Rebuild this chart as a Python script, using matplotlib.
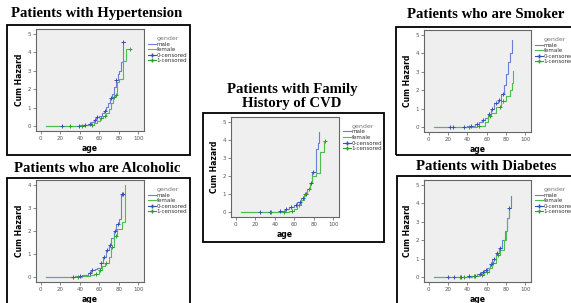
import matplotlib
matplotlib.use("Agg")
import matplotlib.pyplot as plt
import numpy as np
from matplotlib.patches import Rectangle
from matplotlib.lines import Line2D

W, H = 571, 303

# cumulative hazard step data (age, cum hazard)
hyp_m_age = [5, 40, 44, 48, 52, 55, 57, 60, 63, 65, 67, 69, 71, 73, 75, 77, 79, 80, 82, 84, 86]
hyp_m_haz = [0, 0.05, 0.1, 0.15, 0.25, 0.35, 0.5, 0.55, 0.7, 0.85, 1.05, 1.25, 1.55, 1.75, 2.1, 2.5, 2.8, 3.0, 3.45, 4.55, 4.55]
hyp_f_age = [5, 45, 50, 55, 58, 61, 64, 67, 70, 72, 74, 76, 78, 80, 84, 87, 88, 93]
hyp_f_haz = [0, 0.05, 0.1, 0.2, 0.3, 0.45, 0.55, 0.7, 0.95, 1.25, 1.6, 1.7, 2.4, 2.55, 3.5, 4.15, 4.15, 4.15]
hyp_m_cens = [22, 39, 45, 50, 56, 58, 66, 72, 77, 84]
hyp_f_cens = [30, 42, 53, 62, 66, 75, 77, 92]

alc_m_age = [5, 30, 35, 42, 48, 52, 56, 58, 62, 64, 67, 70, 72, 75, 77, 80, 82, 85]
alc_m_haz = [0, 0.03, 0.05, 0.1, 0.2, 0.3, 0.35, 0.4, 0.6, 0.9, 1.2, 1.4, 1.7, 2.0, 2.3, 2.5, 3.6, 3.6]
alc_f_age = [5, 35, 42, 50, 55, 60, 63, 66, 70, 72, 75, 78, 83, 86]
alc_f_haz = [0, 0.03, 0.05, 0.1, 0.15, 0.3, 0.5, 0.6, 0.9, 1.3, 1.8, 2.1, 2.4, 4.0]
alc_m_cens = [33, 40, 51, 53, 62, 65, 68, 71, 76, 79, 83, 84]
alc_f_cens = [38, 57, 61, 67, 73, 77]

fam_m_age = [5, 35, 40, 45, 50, 55, 60, 63, 67, 70, 73, 76, 78, 82, 84, 85]
fam_m_haz = [0, 0.03, 0.05, 0.1, 0.2, 0.3, 0.4, 0.55, 0.8, 1.0, 1.3, 1.6, 2.2, 3.5, 3.8, 4.4]
fam_f_age = [5, 40, 48, 55, 60, 63, 67, 70, 73, 76, 78, 82, 86, 91, 92]
fam_f_haz = [0, 0.03, 0.05, 0.1, 0.2, 0.4, 0.7, 1.0, 1.3, 1.6, 2.0, 2.15, 3.3, 3.95, 3.95]
fam_m_cens = [25, 35, 45, 52, 57, 62, 66, 69, 72, 77, 79]
fam_f_cens = [36, 49, 58, 65, 71, 75, 92]

smk_m_age = [5, 35, 40, 45, 48, 52, 55, 58, 61, 65, 68, 72, 75, 78, 80, 82, 84, 86]
smk_m_haz = [0, 0.03, 0.05, 0.1, 0.2, 0.3, 0.4, 0.5, 0.7, 1.0, 1.3, 1.5, 1.8, 2.3, 2.9, 3.5, 4.0, 4.7]
smk_f_age = [5, 40, 50, 55, 58, 61, 65, 70, 75, 80, 84, 86, 87]
smk_f_haz = [0, 0.03, 0.05, 0.1, 0.3, 0.6, 0.8, 1.1, 1.4, 1.7, 2.0, 2.4, 3.05]
smk_m_cens = [22, 25, 36, 44, 50, 56, 62, 66, 70, 73, 77]
smk_f_cens = [42, 52, 63, 74, 77]

dia_m_age = [5, 30, 40, 45, 50, 54, 57, 60, 63, 66, 70, 73, 76, 79, 81, 83, 85]
dia_m_haz = [0, 0.03, 0.05, 0.1, 0.2, 0.3, 0.4, 0.5, 0.7, 1.0, 1.3, 1.6, 2.0, 2.5, 3.2, 3.75, 4.4]
dia_f_age = [5, 38, 45, 52, 57, 62, 66, 70, 74, 78, 80, 81, 83]
dia_f_haz = [0, 0.03, 0.05, 0.15, 0.3, 0.5, 0.8, 1.2, 1.5, 2.0, 2.5, 3.2, 3.7]
dia_m_cens = [20, 26, 33, 42, 48, 53, 56, 59, 64, 68, 71, 74, 83]
dia_f_cens = [32, 36, 47, 55, 60, 67, 72]

male_col = '#6b7fd6'
male_dark = '#3a50b8'
fem_col = '#4cc04c'
fem_dark = '#2ea02e'


def px_axes(fig, x0, y0, w, h):
    return fig.add_axes([x0 / W, 1 - (y0 + h) / H, w / W, h / H])


def step_val(ages, haz, a):
    i = np.searchsorted(ages, a, side='right') - 1
    return haz[max(i, 0)]


def draw_panel(fig, title, title_xy, box, plot, m_age, m_haz, f_age, f_haz, m_cens, f_cens, ymax):
    bx, by, bw, bh = box
    fig.patches.append(Rectangle((bx / W, 1 - (by + bh) / H), bw / W, bh / H,
                                 transform=fig.transFigure, fill=False,
                                 edgecolor='black', linewidth=1.3))
    for i, line in enumerate(title.split('\n')):
        fig.text(title_xy[0] / W, 1 - (title_xy[1] + i * 13) / H, line,
                 ha='center', va='center', fontsize=10.6, fontweight='bold',
                 family='Liberation Serif')
    px, py, pw, ph = plot
    ax = px_axes(fig, px, py, pw, ph)
    ax.set_facecolor('#efefef')
    ax.step(m_age, m_haz, where='post', color=male_col, lw=0.8)
    ax.step(f_age, f_haz, where='post', color=fem_col, lw=0.8)
    ax.plot(m_cens, [step_val(m_age, m_haz, a) for a in m_cens], '+',
            color=male_dark, ms=3, mew=0.7)
    ax.plot(f_cens, [step_val(f_age, f_haz, a) for a in f_cens], '+',
            color=fem_dark, ms=3, mew=0.7)
    ax.set_xlim(-5, 106)
    ax.set_ylim(-0.05 * ymax, 1.05 * ymax)
    ax.set_xticks([0, 20, 40, 60, 80, 100])
    ax.set_yticks(range(0, ymax + 1))
    ax.tick_params(labelsize=4, length=2, width=0.5, colors='#555555', pad=1.5)
    for s in ax.spines.values():
        s.set_color('#666666')
        s.set_linewidth(0.8)
    ax.set_xlabel('age', fontsize=5.5, fontweight='bold', labelpad=2.5)
    ax.set_ylabel('Cum Hazard', fontsize=5.5, fontweight='bold', labelpad=2.5)
    handles = [
        Line2D([], [], color=male_col, lw=0.8, label='male'),
        Line2D([], [], color=fem_col, lw=0.8, label='female'),
        Line2D([], [], color=male_dark, lw=0.8, marker='+', ms=3, label='0-censored'),
        Line2D([], [], color=fem_dark, lw=0.8, marker='+', ms=3, label='1-censored'),
    ]
    leg = ax.legend(handles=handles, title='gender', loc='upper left',
                    bbox_to_anchor=(1.0, 0.97), frameon=False, fontsize=4,
                    title_fontsize=4.5, handlelength=1.4, handletextpad=0.2,
                    labelspacing=0.1, borderaxespad=0.3)
    leg.get_title().set_color('#777777')
    for t in leg.get_texts():
        t.set_color('#333333')
    return ax


fig = plt.figure(figsize=(W / 100, H / 100), dpi=100)
fig.patch.set_facecolor('white')

draw_panel(fig, 'Patients with Hypertension', (97, 14), (7, 25, 183, 130), (36, 29, 108, 102),
           hyp_m_age, hyp_m_haz, hyp_f_age, hyp_f_haz, hyp_m_cens, hyp_f_cens, 5)
draw_panel(fig, 'Patients who are Alcoholic', (97, 168), (7, 178, 183, 140), (36, 180, 108, 102),
           alc_m_age, alc_m_haz, alc_f_age, alc_f_haz, alc_m_cens, alc_f_cens, 4)
draw_panel(fig, 'Patients with Family\nHistory of CVD', (292, 90), (203, 113, 181, 129), (231, 117, 108, 100),
           fam_m_age, fam_m_haz, fam_f_age, fam_f_haz, fam_m_cens, fam_f_cens, 5)
draw_panel(fig, 'Patients who are Smoker', (486, 14), (396, 27, 190, 128), (424, 30, 107, 102),
           smk_m_age, smk_m_haz, smk_f_age, smk_f_haz, smk_m_cens, smk_f_cens, 5)
draw_panel(fig, 'Patients with Diabetes', (486, 167), (397, 176, 190, 140), (424, 180, 107, 102),
           dia_m_age, dia_m_haz, dia_f_age, dia_f_haz, dia_m_cens, dia_f_cens, 5)

fig.savefig('out.png', dpi=100)
